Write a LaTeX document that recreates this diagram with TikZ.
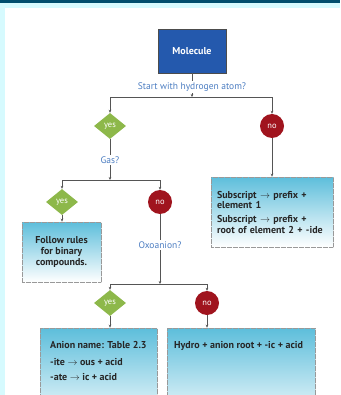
\documentclass[tikz,border=0pt]{standalone}
\usepackage{fontspec}
\setmainfont{PT Sans}
\usetikzlibrary{shapes.geometric,arrows.meta,shadows}
\definecolor{topbar}{HTML}{004E6E}
\definecolor{bgcyan}{HTML}{D6FAFE}
\definecolor{molblue}{HTML}{2459AD}
\definecolor{qblue}{HTML}{4D7EC2}
\definecolor{yesgreen}{HTML}{8DB84A}
\definecolor{nored}{HTML}{A0141E}
\definecolor{boxtop}{HTML}{5DBEDB}
\definecolor{linegray}{HTML}{555555}
\tikzset{
  conn/.style={draw=linegray, line width=0.6pt},
  arr/.style={conn, -{Stealth[length=3pt,width=2.6pt]}},
  yesd/.style={diamond, fill=yesgreen, minimum width=32pt, minimum height=26pt, inner sep=0pt, text=white, font=\fontsize{8.5}{9}\selectfont},
  noc/.style={circle, fill=nored, minimum size=24pt, inner sep=0pt, text=white, font=\fontsize{8.5}{9}\selectfont},
  qlabel/.style={text=qblue, font=\fontsize{9.5}{11}\selectfont, inner sep=1.5pt},
  infobox/.style={draw=gray!80, dash pattern=on 0.5pt off 0.7pt, line width=0.6pt, top color=boxtop, bottom color=white,
    drop shadow={opacity=0.25, shadow xshift=1pt, shadow yshift=-1pt}},
  boxtext/.style={font=\bfseries\fontsize{10}{10.5}\selectfont, text=black!85},
  molbox/.style={rectangle, fill=molblue, draw=black!70, line width=0.5pt, text=white, font=\bfseries\fontsize{10}{12}\selectfont,
    minimum width=68pt, minimum height=44pt, drop shadow={opacity=0.3, shadow xshift=0pt, shadow yshift=-1pt}}
}
\begin{document}
\begin{tikzpicture}[x=1pt,y=-1pt]
\useasboundingbox (0,0) rectangle (340,395);
\clip (0,0) rectangle (340,395);
\fill[bgcyan] (0,0) rectangle (340,395);
\fill[topbar] (0,0) rectangle (340,3);
\fill[white] (5,8) rectangle (340,395);

\node[molbox] (mol) at (192,51) {Molecule};
\node[qlabel] (q1) at (192,87) {Start with hydrogen atom?};
\coordinate (j1) at (192,97);
\node[yesd] (y1) at (110,126) {yes};
\node[noc] (n1) at (272,126) {no};
\node[qlabel] (gas) at (110,160) {Gas?};
\coordinate (j2) at (110,180);
\node[yesd] (y2) at (62,202) {yes};
\node[noc] (n2) at (160,202) {no};
\node[infobox, boxtext, minimum width=79pt, minimum height=60pt, align=center, inner sep=0pt] (b1) at (61.5,252)
  {Follow rules\\[0.5pt]for binary\\[0.5pt]compounds.};
\node[infobox, boxtext, minimum width=122pt, minimum height=70pt, text width=110pt, inner xsep=6pt, align=left] (b2) at (272,212)
  {Subscript $\rightarrow$ prefix +\\element 1\\[3.5pt]Subscript $\rightarrow$ prefix +\\root of element 2 + -ide};
\node[qlabel] (ox) at (160,245) {Oxoanion?};
\coordinate (j3) at (160,284);
\node[yesd] (y3) at (110,303) {yes};
\node[noc] (n3) at (207,303) {no};
\node[infobox, minimum width=117pt, minimum height=100pt] (b3) at (98.5,378) {};
\node[infobox, minimum width=148pt, minimum height=100pt] (b4) at (241,378) {};
\node[boxtext, anchor=north west, inner sep=0pt, align=left] (t3) at (50,341)
  {Anion name: Table 2.3\\[6.5pt]-ite $\rightarrow$ ous + acid\\[4.5pt]-ate $\rightarrow$ ic + acid};
\node[boxtext, anchor=north west, inner sep=0pt, align=left] (t4) at (174,341)
  {Hydro + anion root + -ic + acid};

\draw[conn] (mol) -- (q1);
\draw[arr] (q1) -- (j1);
\draw[arr] (j1) -| (y1);
\draw[arr] (j1) -| (n1);
\draw[conn] (y1) -- (gas);
\draw[arr] (gas) -- (j2);
\draw[arr] (j2) -| (y2);
\draw[arr] (j2) -| (n2);
\draw[arr] (n1) -- (n1 |- b2.north);
\draw[arr] (y2) -- (y2 |- b1.north);
\draw[conn] (n2) -- (ox);
\draw[arr] (ox) -- (j3);
\draw[arr] (j3) -| (y3);
\draw[arr] (j3) -| (n3);
\draw[arr] (y3) -- (y3 |- b3.north);
\draw[arr] (n3) -- (n3 |- b4.north);
\end{tikzpicture}
\end{document}
